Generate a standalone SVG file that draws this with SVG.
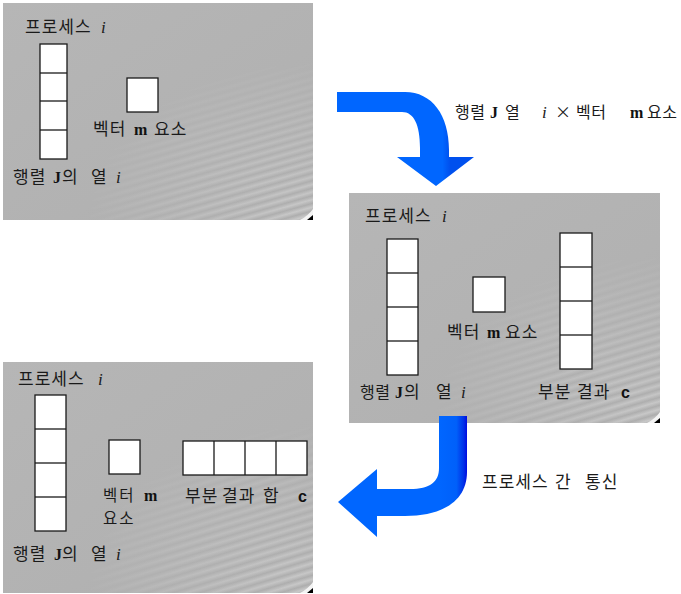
<svg xmlns="http://www.w3.org/2000/svg" width="681" height="594" viewBox="0 0 681 594">
<defs>
<style>
.ko{font-family:"Noto Sans CJK KR","Noto Sans",sans-serif;font-size:17px;fill:#1a1a1a;letter-spacing:1px}
.kl{font-family:"Noto Sans CJK KR","Noto Sans",sans-serif;font-size:16px;fill:#1a1a1a;letter-spacing:0.5px}
.ks{font-family:"Noto Sans CJK KR","Noto Sans",sans-serif;font-size:15.5px;fill:#1a1a1a;letter-spacing:2px}
.it{font-family:"Liberation Serif",serif;font-style:italic;font-size:17px;fill:#1a1a1a}
.bs{font-family:"Liberation Serif",serif;font-weight:bold;font-size:16px;fill:#111}
.bc{font-family:"Liberation Sans",sans-serif;font-weight:bold;font-size:16px;fill:#111}
.cell{fill:#fff;stroke:#1a1a1a;stroke-width:1.3}
.ln{stroke:#1a1a1a;stroke-width:1.3}
.panel{fill:url(#bg)}
.streak{fill:url(#st)}
</style>
<linearGradient id="bg" x1="0" y1="0" x2="1" y2="1">
<stop offset="0" stop-color="#b6b6b6"/>
<stop offset="0.6" stop-color="#b2b2b2"/>
<stop offset="1" stop-color="#aeaeae"/>
</linearGradient>
<linearGradient id="st" x1="0" y1="0" x2="0.012" y2="0.03" spreadMethod="repeat">
<stop offset="0" stop-color="#ffffff" stop-opacity="0"/>
<stop offset="0.5" stop-color="#ffffff" stop-opacity="0.35"/>
<stop offset="1" stop-color="#ffffff" stop-opacity="0"/>
</linearGradient>
<radialGradient id="fade" cx="1" cy="1" r="0.75">
<stop offset="0" stop-color="#fff"/>
<stop offset="1" stop-color="#000"/>
</radialGradient>
<mask id="m" maskContentUnits="objectBoundingBox">
<rect width="1" height="1" fill="url(#fade)"/>
</mask>
<linearGradient id="a1" gradientUnits="userSpaceOnUse" x1="420" y1="0" x2="450" y2="0">
<stop offset="0" stop-color="#0066ff"/>
<stop offset="0.75" stop-color="#0066ff"/>
<stop offset="1" stop-color="#0050ee"/>
</linearGradient>
<linearGradient id="a2" gradientUnits="userSpaceOnUse" x1="439" y1="0" x2="468" y2="0">
<stop offset="0" stop-color="#0066ff"/>
<stop offset="0.6" stop-color="#0060fa"/>
<stop offset="0.85" stop-color="#0030e8"/>
<stop offset="1" stop-color="#0000dd"/>
</linearGradient>
</defs>

<g id="panel1">
<rect class="panel" x="3" y="3" width="310" height="217"/>
<rect class="streak" x="3" y="3" width="310" height="217" mask="url(#m)"/>
<path d="M300,220 Q308,216 313,209 L313,220 Z" fill="#f4f4f4"/>
<path d="M307,220 L313,215 L313,220 Z" fill="#000"/>
<text class="ko" x="25" y="33">프로세스</text><text class="it" x="101" y="33">i</text>
<rect class="cell" x="40" y="44" width="27" height="115"/>
<line class="ln" x1="40" y1="73" x2="67" y2="73"/>
<line class="ln" x1="40" y1="101" x2="67" y2="101"/>
<line class="ln" x1="40" y1="130" x2="67" y2="130"/>
<rect class="cell" x="127" y="78" width="31" height="34"/>
<text class="ko" x="93" y="135">벡터</text><text class="bs" x="134" y="135">m</text><text class="ko" x="154" y="135">요소</text>
<text class="ko" x="13" y="183">행렬</text><text class="bs" x="53" y="183">J</text><text class="ko" x="62" y="183">의</text><text class="ko" x="91" y="183">열</text><text class="it" x="116" y="183">i</text>
</g>

<g id="panel2">
<rect class="panel" x="349" y="193" width="311" height="230"/>
<rect class="streak" x="349" y="193" width="311" height="230" mask="url(#m)"/>
<path d="M647,423 Q655,419 660,412 L660,423 Z" fill="#f4f4f4"/>
<path d="M654,423 L660,418 L660,423 Z" fill="#000"/>
<text class="ko" x="365" y="222">프로세스</text><text class="it" x="442" y="222">i</text>
<rect class="cell" x="387" y="239" width="31" height="136"/>
<line class="ln" x1="387" y1="273" x2="418" y2="273"/>
<line class="ln" x1="387" y1="307" x2="418" y2="307"/>
<line class="ln" x1="387" y1="341" x2="418" y2="341"/>
<rect class="cell" x="473" y="277" width="32" height="35"/>
<rect class="cell" x="560" y="233" width="32" height="136"/>
<line class="ln" x1="560" y1="267" x2="592" y2="267"/>
<line class="ln" x1="560" y1="301" x2="592" y2="301"/>
<line class="ln" x1="560" y1="335" x2="592" y2="335"/>
<text class="ko" x="447" y="338">벡터</text><text class="bs" x="487" y="338">m</text><text class="ko" x="505" y="338">요소</text>
<text class="kl" x="360" y="398">행렬</text><text class="bs" x="395" y="398">J</text><text class="ko" x="404" y="398">의</text><text class="ko" x="436" y="398">열</text><text class="it" x="461" y="398">i</text>
<text class="ko" x="538" y="398">부분</text><text class="ko" x="577" y="398">결과</text><text class="bc" x="621" y="398">c</text>
</g>

<g id="panel3">
<rect class="panel" x="3" y="362" width="310" height="231"/>
<rect class="streak" x="3" y="362" width="310" height="231" mask="url(#m)"/>
<path d="M300,593 Q308,589 313,582 L313,593 Z" fill="#f4f4f4"/>
<path d="M307,593 L313,588 L313,593 Z" fill="#000"/>
<text class="ko" x="18" y="385">프로세스</text><text class="it" x="98" y="385">i</text>
<rect class="cell" x="35" y="395" width="31" height="136"/>
<line class="ln" x1="35" y1="429" x2="66" y2="429"/>
<line class="ln" x1="35" y1="463" x2="66" y2="463"/>
<line class="ln" x1="35" y1="497" x2="66" y2="497"/>
<rect class="cell" x="109" y="440" width="31" height="34"/>
<rect class="cell" x="183" y="441" width="124" height="34"/>
<line class="ln" x1="214" y1="441" x2="214" y2="475"/>
<line class="ln" x1="245" y1="441" x2="245" y2="475"/>
<line class="ln" x1="276" y1="441" x2="276" y2="475"/>
<text class="ks" x="103" y="501">벡터</text><text class="bs" x="144" y="501">m</text>
<text class="ks" x="103" y="524">요소</text>
<text class="ko" x="185" y="502">부분</text><text class="ko" x="222" y="502">결과</text><text class="ko" x="263" y="502">합</text><text class="bc" x="298" y="502">c</text>
<text class="ko" x="13" y="560">행렬</text><text class="bs" x="54" y="560">J</text><text class="ko" x="62" y="560">의</text><text class="ko" x="91" y="560">열</text><text class="it" x="116" y="560">i</text>
</g>

<g id="connectors">
<path d="M337,92 L405,92 C432,92 449,115 449,150 L449,157 L474,157 L436,186 L397,157 L420,157 L420,148 C420,125 414,112 402,112 L337,112 Z" fill="url(#a1)"/>
<path d="M439,416 L467,416 L467,472 C467,500 444,516 405,516 L377,516 L377,537 L338,502 L377,469 L377,489 L410,489 C430,489 439,482 439,468 Z" fill="url(#a2)"/>
<text class="kl" x="455" y="118">행렬</text><text class="bs" x="490" y="118">J</text><text class="kl" x="505" y="118">열</text><text class="it" x="542" y="118">i</text><text class="kl" x="555" y="118">×</text><text class="kl" x="576" y="118">벡터</text><text class="bs" x="630" y="118">m</text><text class="kl" x="647" y="118">요소</text>
<text class="ko" x="482" y="488">프로세스</text><text class="ko" x="555" y="488">간</text><text class="ko" x="585" y="488">통신</text>
</g>
</svg>
